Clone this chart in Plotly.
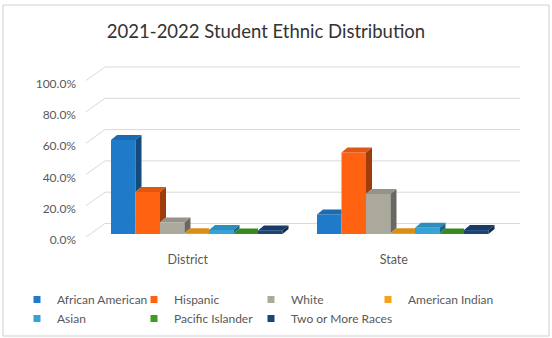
import plotly.graph_objects as go

# ---- data -------------------------------------------------------------
categories = ["District", "State"]
groups = ["African American", "Hispanic", "White", "American Indian",
          "Asian", "Pacific Islander", "Two or More Races"]
district = [60.0, 26.8, 7.3, 0.4, 2.6, 0.3, 2.3]
state = [12.5, 52.0, 25.5, 0.4, 4.0, 0.3, 2.5]
y_ticks = [0, 20, 40, 60, 80, 100]
y_tick_labels = ["0.0%", "20.0%", "40.0%", "60.0%", "80.0%", "100.0%"]

# ---- styling ------------------------------------------------------------
front_colors = ["#1f7ac9", "#ff6312", "#aba99b", "#f5a31c",
                "#35a3d6", "#3f9b22", "#1c4577"]
# legend laid out as four columns, one vertical legend per column
legend_column = [0, 1, 2, 3, 0, 1, 2]
legend_ids = ["legend", "legend2", "legend3", "legend4"]


def shade(hex_color, f):
    h = hex_color.lstrip("#")
    r, g, b = (int(h[i:i + 2], 16) for i in (0, 2, 4))
    return "#%02x%02x%02x" % (int(r * f), int(g * f), int(b * f))


side_colors = [shade(c, 0.62) for c in front_colors]
top_colors = [shade(c, 0.88) for c in front_colors]

W, H = 552, 338
L, R, T, B = 80, 530, 56, 242          # plot area in pixels
Y0, PXY = 234, 1.565                   # pixel of 0 %, pixels per percent
X0, PXX = 196.75, 206.0                # pixel of first category, pixels per category
BAR_PX = 24.5                          # bar width in pixels
DEPTH_X, DEPTH_Y = 6.0, 5.0            # oblique depth of each bar, pixels
WALL_X0, WALL_X1 = 105, 520            # back wall extent, pixels
SIDE_FRONT_X = 86                      # front edge of the side wall, pixels
WALL_DY, SIDE_DY = 10.5, -3.0          # wall / side-wall offsets from the bar base, pixels
LEG_X, LEG_Y, LEG_COL = 17, 285, 117   # legend origin and column pitch, pixels

x_range = [(L - X0) / PXX, (R - X0) / PXX]
y_range = [(Y0 - B) / PXY, (Y0 - T) / PXY]
bw = BAR_PX / PXX
dxu = DEPTH_X / PXX
dyu = DEPTH_Y / PXY


def px_to_x(px):
    return (px - X0) / PXX


def px_to_y(dpx):
    return dpx / PXY


fig = go.Figure()

# back wall and side wall grid (drawn beneath all bars)
shapes = []
grid = dict(color="#d9d9d9", width=1)
for t in y_ticks:
    yb = t + px_to_y(WALL_DY)
    yf = t + px_to_y(SIDE_DY)
    shapes.append(dict(type="line", layer="below", xref="x", yref="y",
                       x0=px_to_x(WALL_X0), x1=px_to_x(WALL_X1), y0=yb, y1=yb, line=grid))
    shapes.append(dict(type="line", layer="below", xref="x", yref="y",
                       x0=px_to_x(SIDE_FRONT_X), x1=px_to_x(WALL_X0), y0=yf, y1=yb, line=grid))

# chart frame
shapes.append(dict(type="rect", xref="paper", yref="paper", layer="below",
                   x0=(3 - L) / (R - L), x1=(549 - L) / (R - L),
                   y0=(B - 336) / (B - T), y1=(B - 5) / (B - T),
                   line=dict(color="#d0d0d0", width=1)))

series_values = [[district[k], state[k]] for k in range(len(groups))]

# front faces
for k, name in enumerate(groups):
    xs = [c + (k - 3) * bw for c in range(len(categories))]
    fig.add_trace(go.Bar(x=xs, y=series_values[k], width=bw, name=name,
                         marker=dict(color=front_colors[k], line=dict(width=0)),
                         showlegend=False, hoverinfo="skip"))

# top and side faces, left to right so nearer bars hide the faces behind them
for k in range(len(groups)):
    for c in range(len(categories)):
        v = series_values[k][c]
        xc = c + (k - 3) * bw
        lft, rgt = xc - bw / 2, xc + bw / 2
        v_next = series_values[k + 1][c] if k + 1 < len(groups) else None

        if v_next is not None and v_next > v:
            tx = [lft, lft + dxu, rgt, rgt, lft]
        else:
            tx = [lft, lft + dxu, rgt + dxu, rgt, lft]
        ty = [v, v + dyu, v + dyu, v, v]
        fig.add_trace(go.Scatter(x=tx, y=ty, mode="lines", fill="toself",
                                 fillcolor=top_colors[k], line=dict(width=0),
                                 showlegend=False, hoverinfo="skip"))

        base = 0 if v_next is None else v_next
        if v_next is None or v_next < v:
            sx = [rgt, rgt + dxu, rgt + dxu, rgt, rgt]
            sy = [base, base + dyu, v + dyu, v, base]
            fig.add_trace(go.Scatter(x=sx, y=sy, mode="lines", fill="toself",
                                     fillcolor=side_colors[k], line=dict(width=0),
                                     showlegend=False, hoverinfo="skip"))

# legend entries
for k, name in enumerate(groups):
    fig.add_trace(go.Scatter(x=[None], y=[None], mode="markers", name=name,
                             legend=legend_ids[legend_column[k]],
                             marker=dict(symbol="square", size=7, color=front_colors[k])))

text_col = "#595959"
legend_common = dict(orientation="v", xref="container", yref="container",
                     xanchor="left", yanchor="top", tracegroupgap=0,
                     font=dict(size=12, color=text_col), bgcolor="rgba(0,0,0,0)",
                     itemclick=False, itemdoubleclick=False)
legend_layout = {
    lid: dict(legend_common, x=(LEG_X + i * LEG_COL) / W, y=1 - LEG_Y / H)
    for i, lid in enumerate(legend_ids)
}

fig.update_layout(
    width=W, height=H,
    margin=dict(l=L, r=W - R, t=T, b=H - B, autoexpand=False),
    paper_bgcolor="white", plot_bgcolor="rgba(0,0,0,0)",
    barmode="overlay",
    font=dict(family="Lato, 'Open Sans', sans-serif", size=12, color=text_col),
    title=dict(text="2021-2022 Student Ethnic Distribution",
               font=dict(family="Lato, sans-serif", size=18.5, color="#333333"),
               xref="container", yref="container",
               x=266 / W, xanchor="center", y=1 - 32 / H, yanchor="middle"),
    xaxis=dict(range=x_range, tickmode="array", tickvals=[0, 1], ticktext=categories,
               showgrid=False, zeroline=False, showline=False, ticks="",
               ticklabelshift=-9, ticklabelstandoff=8,
               tickfont=dict(size=12.5, color=text_col), fixedrange=True),
    yaxis=dict(range=y_range, tickmode="array", tickvals=y_ticks, ticktext=y_tick_labels,
               showgrid=False, zeroline=False, showline=False, ticks="",
               ticklabelshift=6, ticklabelstandoff=3,
               tickfont=dict(size=12, color=text_col), fixedrange=True),
    shapes=shapes,
    showlegend=True,
    **legend_layout,
)

fig.write_html("out.html")
